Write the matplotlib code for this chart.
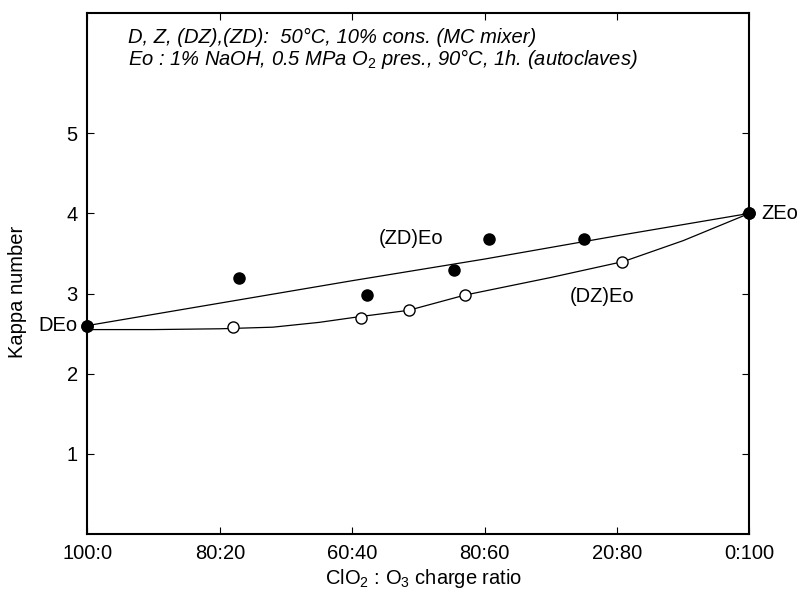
import matplotlib
matplotlib.use("Agg")
import matplotlib.pyplot as plt

plt.rcParams['font.family'] = ['Liberation Sans', 'DejaVu Sans']
plt.rcParams['mathtext.fontset'] = 'custom'
plt.rcParams['mathtext.rm'] = 'Liberation Sans'
plt.rcParams['mathtext.it'] = 'Liberation Sans:italic'

# O3 share of the charge (%), Kappa number
zd_x = [0, 22.9, 42.2, 55.4, 60.7, 75.0, 100]
zd_y = [2.6, 3.19, 2.98, 3.29, 3.68, 3.68, 4.0]
dz_x = [0, 22.0, 41.3, 48.5, 57.0, 80.8, 100]
dz_y = [2.6, 2.58, 2.70, 2.79, 2.98, 3.39, 4.0]

# trend curves as drawn in the figure
zd_curve_x = [0, 20, 40, 60, 80, 100]
zd_curve_y = [2.6, 2.88, 3.16, 3.43, 3.72, 4.0]
dz_curve_x = [0, 10, 20, 28, 35, 41, 48.5, 57, 70, 81, 90, 100]
dz_curve_y = [2.55, 2.55, 2.56, 2.58, 2.64, 2.71, 2.79, 2.98, 3.2, 3.4, 3.66, 4.0]

tick_pos = [0, 20, 40, 60, 80, 100]
tick_labels = ['100:0', '80:20', '60:40', '80:60', '20:80', '0:100']

fig = plt.figure(figsize=(8.02, 5.89), dpi=100)
ax = fig.add_axes([0.109, 0.0934, 0.8255, 0.8846])

ax.plot(zd_curve_x, zd_curve_y, color='black', lw=0.9, clip_on=False)
ax.plot(dz_curve_x, dz_curve_y, color='black', lw=0.9, clip_on=False)
ax.plot(dz_x, dz_y, 'o', ms=8, mfc='white', mec='black', mew=1.0,
        clip_on=False, zorder=3)
ax.plot(zd_x, zd_y, 'o', ms=8, mfc='black', mec='black', mew=1.0,
        clip_on=False, zorder=4)

ax.set_xlim(0, 100)
ax.set_ylim(0, 6.5)
ax.set_xticks(tick_pos)
ax.set_xticklabels(tick_labels)
ax.set_yticks([1, 2, 3, 4, 5])
ax.tick_params(direction='in', top=True, right=True, length=5, width=0.8,
               labelsize=14.5, pad=7)
for s in ax.spines.values():
    s.set_linewidth(1.5)

ax.set_xlabel('ClO$_2$ : O$_3$ charge ratio', fontsize=14.5)
ax.set_ylabel('Kappa number', fontsize=14.5)
ax.xaxis.set_label_coords(0.508, -0.064)
ax.yaxis.set_label_coords(-0.092, 0.465)

ax.text(-1.5, 2.6, 'DEo', fontsize=14.5, ha='right', va='center')
ax.text(1.8 + 100, 4.0, 'ZEo', fontsize=14.5, ha='left', va='center')
ax.text(48.9, 3.69, '(ZD)Eo', fontsize=14.5, ha='center', va='center')
ax.text(77.7, 2.96, '(DZ)Eo', fontsize=14.5, ha='center', va='center')

ax.text(6.1, 6.19, 'D, Z, (DZ),(ZD):  50°C, 10% cons. (MC mixer)',
        fontsize=14.5, style='italic', va='center')
ax.text(6.1, 5.92, 'Eo : 1% NaOH, 0.5 MPa O$_2$ pres., 90°C, 1h. (autoclaves)',
        fontsize=14.5, style='italic', va='center')

fig.savefig('out.png', dpi=100)
